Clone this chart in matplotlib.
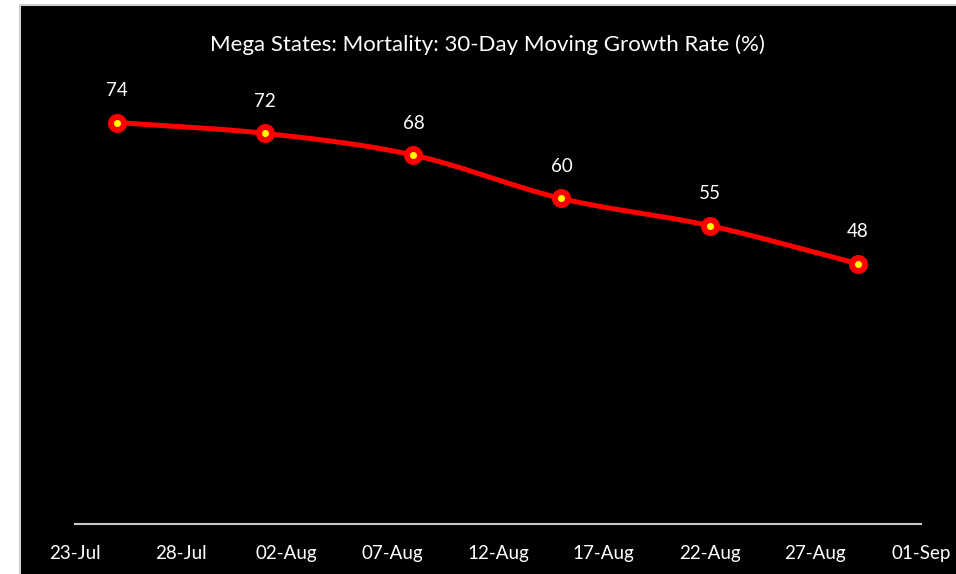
import matplotlib
matplotlib.use("Agg")
import matplotlib.pyplot as plt
import matplotlib.dates as mdates
from matplotlib.patches import Rectangle
import numpy as np
import datetime as dt

dates = ["2020-07-25", "2020-08-01", "2020-08-08", "2020-08-15", "2020-08-22", "2020-08-29"]
values = [74, 72, 68, 60, 55, 48]
tick_dates = ["2020-07-23", "2020-07-28", "2020-08-02", "2020-08-07", "2020-08-12",
              "2020-08-17", "2020-08-22", "2020-08-27", "2020-09-01"]
title = "Mega States: Mortality: 30-Day Moving Growth Rate (%)"

plt.rcParams['font.family'] = ['Lato', 'DejaVu Sans']

W, H = 956, 574
fig = plt.figure(figsize=(W / 100, H / 100), dpi=100, facecolor="white")

bg = fig.add_axes([0, 0, 1, 1], zorder=-5)
bg.set_axis_off()
bg.set_xlim(0, 1); bg.set_ylim(0, 1)
bg.add_patch(Rectangle((20 / W, -0.01), 1.0, (H - 5) / H + 0.01,
                       facecolor="black", edgecolor="#d0d0d0", linewidth=1.5))

ax = fig.add_axes([75 / W, 1 - 524 / H, (921 - 75) / W, (524 - 90) / H], zorder=1)
ax.set_facecolor("none")

x = np.array([mdates.date2num(dt.datetime.fromisoformat(d)) for d in dates])
y = np.array(values, dtype=float)

# Catmull-Rom smoothing for the drawn line (Excel-style smoothed line)
P = np.column_stack([x, y])
ext = np.vstack([P[0] - (P[1] - P[0]), P, P[-1] + (P[-1] - P[-2])])
sx, sy = [], []
for i in range(1, len(ext) - 2):
    p0, p1, p2, p3 = ext[i - 1], ext[i], ext[i + 1], ext[i + 2]
    t = np.linspace(0, 1, 30)[:, None]
    seg = 0.5 * ((2 * p1) + (-p0 + p2) * t + (2 * p0 - 5 * p1 + 4 * p2 - p3) * t ** 2
                 + (-p0 + 3 * p1 - 3 * p2 + p3) * t ** 3)
    sx.extend(seg[:, 0]); sy.extend(seg[:, 1])
ax.plot(sx, sy, color="#ff0000", linewidth=3.6, solid_capstyle="round", zorder=2)
ax.plot(x, y, linestyle="none", marker="o", markersize=9.4, markerfacecolor="#ffff00",
        markeredgecolor="#ff0000", markeredgewidth=4.3, zorder=3)

for xi, yi, v in zip(x, y, values):
    ax.annotate(str(v), (xi, yi), xytext=(0, 32), textcoords="offset pixels",
                ha="center", va="center", color="white", fontsize=13.5)

ticks = [mdates.date2num(dt.datetime.fromisoformat(d)) for d in tick_dates]
ax.set_xlim(ticks[0], ticks[-1])
ax.set_ylim(0, 80)
ax.set_xticks(ticks)
ax.xaxis.set_major_formatter(mdates.DateFormatter("%d-%b"))
ax.tick_params(axis="x", colors="white", labelsize=13.5, length=0, pad=15)
ax.set_yticks([])
for s in ["left", "right", "top"]:
    ax.spines[s].set_visible(False)
ax.spines["bottom"].set_color("#c8c8c8")
ax.spines["bottom"].set_linewidth(1.5)

fig.text(487 / W, 1 - 45 / H, title, ha="center", va="center", color="white", fontsize=16)

fig.savefig("out.png", dpi=100, facecolor="white")
